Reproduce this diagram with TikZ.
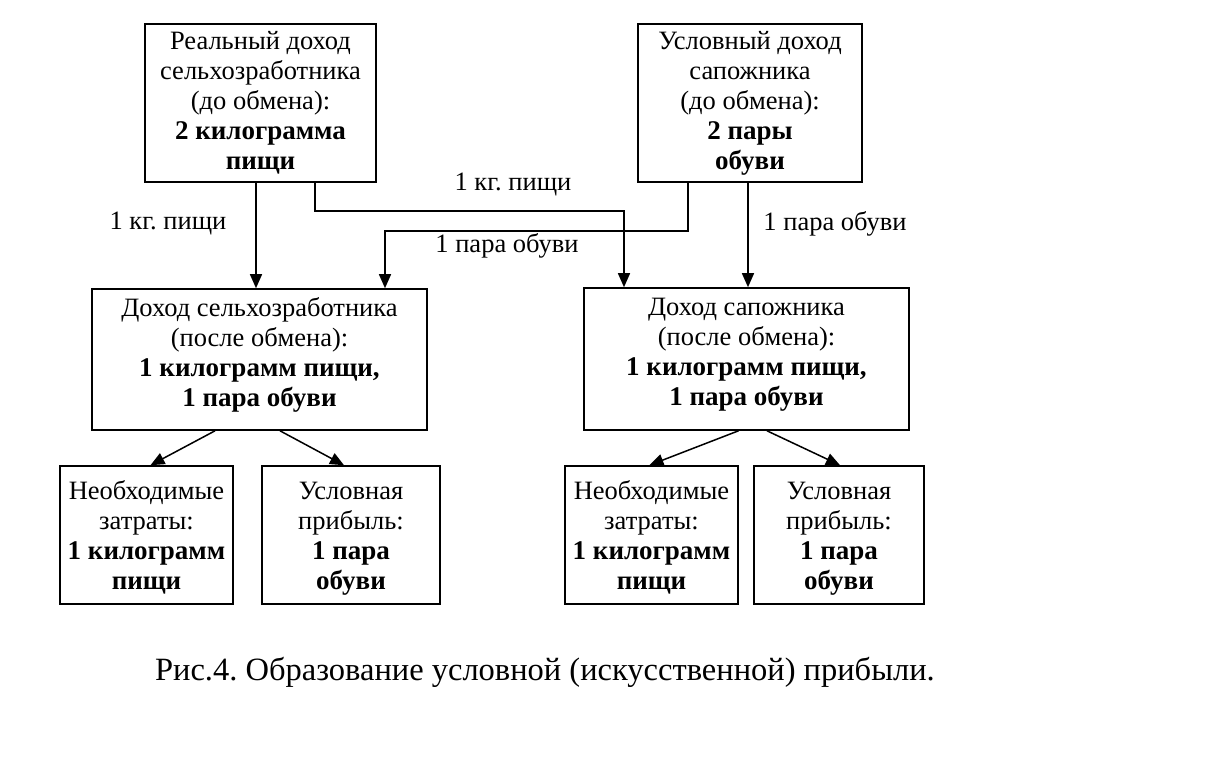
\documentclass[tikz,border=0pt]{standalone}
\usepackage{fontspec}
\setmainfont{Liberation Serif}
\usetikzlibrary{arrows.meta}
\frenchspacing
\newcommand{\bl}[1]{{\fontsize{27}{30}\selectfont\bfseries #1}}
\newcommand{\lowpad}{\rule[-14pt]{0pt}{0pt}}
\newcommand{\toppad}{\rule{0pt}{24pt}}
\begin{document}
\begin{tikzpicture}[x=1pt,y=-1pt,
  box/.style={draw, line width=1.6pt, align=center, inner sep=0pt,
    font=\fontsize{26.5}{30}\selectfont\frenchspacing},
  lbl/.style={font=\fontsize{26.5}{30}\selectfont, inner sep=0pt},
  arr/.style={line width=1.5pt, -{Triangle[length=14pt,width=12pt]}}]
\useasboundingbox (0,0) rectangle (1207,771);
% top boxes
\node[box, minimum width=231pt, minimum height=158pt] (A) at (260.5,103)
  {Реальный доход\\сельхозработника\\(до обмена):\\\bl{2 килограмма}\\\bl{пищи}};
\node[box, minimum width=224pt, minimum height=158pt] (B) at (750,103)
  {Условный доход\\сапожника\\(до обмена):\\\bl{2 пары}\\\bl{обуви}};
% middle boxes
\node[box, minimum width=335pt, minimum height=141pt] (C) at (259.5,359.5)
  {Доход сельхозработника\\(после обмена):\\\bl{1 килограмм пищи,}\\\bl{1 пара обуви}\lowpad};
\node[box, minimum width=325pt, minimum height=142pt] (D) at (746.5,359)
  {Доход сапожника\\(после обмена):\\\bl{1 килограмм пищи,}\\\bl{1 пара обуви}\lowpad};
% bottom boxes
\node[box, minimum width=173pt, minimum height=138pt] (E) at (146.5,535)
  {\toppad Необходимые\\затраты:\\\bl{1 килограмм}\\\bl{пищи}};
\node[box, minimum width=178pt, minimum height=138pt] (F) at (351,535)
  {\toppad Условная\\прибыль:\\\bl{1 пара}\\\bl{обуви}};
\node[box, minimum width=173pt, minimum height=138pt] (G) at (651.5,535)
  {\toppad Необходимые\\затраты:\\\bl{1 килограмм}\\\bl{пищи}};
\node[box, minimum width=170pt, minimum height=138pt] (H) at (839,535)
  {\toppad Условная\\прибыль:\\\bl{1 пара}\\\bl{обуви}};
% labels
\node[lbl] (l1) at (168,224) {1 кг. пищи};
\node[lbl] (l2) at (513,185) {1 кг. пищи};
\node[lbl] (l3) at (507,246) {1 пара обуви};
\node[lbl] (l4) at (835,224) {1 пара обуви};
% connectors top
\draw[arr] ([xshift=-4.5pt]A.south) -- ([xshift=-4.5pt]A.south |- C.north);
\draw[arr] ([xshift=54.5pt]A.south) -- ++(0,28) -| ([xshift=-122.5pt]D.north);
\draw[arr] ([xshift=-62pt]B.south) -- ++(0,48) -| ([xshift=125.5pt]C.north);
\draw[arr] ([xshift=-2pt]B.south) -- ([xshift=-2pt]B.south |- D.north);
% connectors bottom
\draw[arr] ([xshift=-44.5pt]C.south) -- ([xshift=4pt]E.north);
\draw[arr] ([xshift=20.5pt]C.south) -- ([xshift=-7pt]F.north);
\draw[arr] ([xshift=-8pt]D.south) -- ([xshift=-2pt]G.north);
\draw[arr] ([xshift=20.5pt]D.south) -- ([xshift=1pt]H.north);
% caption
\node[inner sep=0pt, font=\fontsize{32.5}{36}\selectfont\frenchspacing] (cap) at (545,672)
  {Рис.4. Образование условной (искусственной) прибыли.};
\end{tikzpicture}
\end{document}
